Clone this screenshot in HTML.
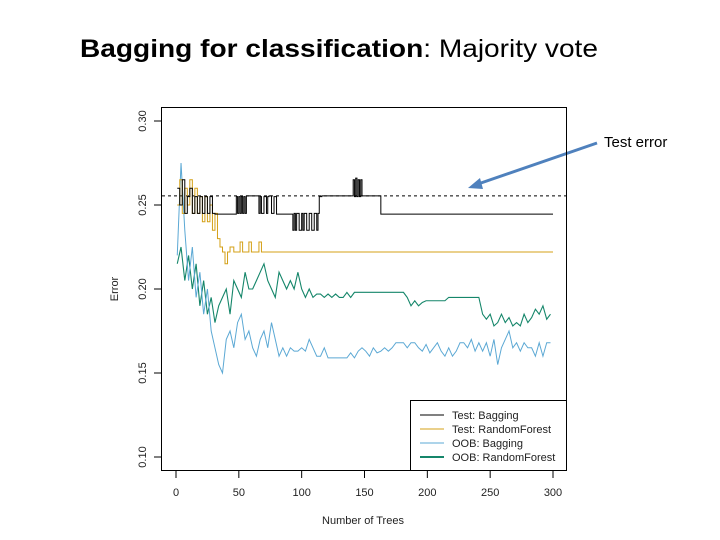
<!DOCTYPE html>
<html><head><meta charset="utf-8"><style>
html,body{margin:0;padding:0;background:#fff;}
svg{display:block;font-family:"Liberation Sans",sans-serif;}
</style></head><body>
<svg id="chart" width="720" height="540" viewBox="0 0 720 540">
<text x="80" y="57" font-size="25" textLength="518" lengthAdjust="spacingAndGlyphs" fill="#000"><tspan font-weight="bold">Bagging for classification</tspan>: Majority vote</text>
<text x="604" y="147" font-size="15" fill="#000">Test error</text>
<line x1="597" y1="143" x2="478" y2="184" stroke="#4f81bd" stroke-width="3"/>
<polygon points="468,188 480,178 483,189" fill="#4f81bd"/>
<rect x="161.5" y="107.5" width="405" height="363" fill="none" stroke="#000" stroke-width="1"/>
<g id="axes"></g>
<g id="series"></g>
<g>
<rect x="410.5" y="400.5" width="156" height="70" fill="#fff" stroke="#000"/>
<line x1="420" y1="415" x2="444" y2="415" stroke="#000"/>
<text x="452" y="419" font-size="11" fill="#222">Test: Bagging</text>
<line x1="420" y1="429" x2="444" y2="429" stroke="#d4a017"/>
<text x="452" y="433" font-size="11" fill="#222">Test: RandomForest</text>
<line x1="420" y1="443" x2="444" y2="443" stroke="#5ba8d4"/>
<text x="452" y="447" font-size="11" fill="#222">OOB: Bagging</text>
<line x1="420" y1="457" x2="444" y2="457" stroke="#15866a" stroke-width="2"/>
<text x="452" y="461" font-size="11" fill="#222">OOB: RandomForest</text>
</g>
<text x="363" y="524" font-size="11" text-anchor="middle" fill="#222">Number of Trees</text>
<text transform="translate(118,289) rotate(-90)" font-size="11" text-anchor="middle" fill="#222">Error</text>
</svg>
<script>
const xTicks = [0, 50, 100, 150, 200, 250, 300];
const yTicks = [0.10, 0.15, 0.20, 0.25, 0.30];
const yTickLabels = ["0.10", "0.15", "0.20", "0.25", "0.30"];
const dashedLevel = 0.2554;
const testBagTrees = [1,3,5,7,9,11,13,15,17,19,21,23,25,27,29,31,48,49,50,51,52,53,54,55,56,66,67,68,70,72,73,74,76,78,80,92,93,94,95,96,98,100,101,102,104,106,108,110,112,113,114,116,140,141,142,143,144,145,146,147,148,149,163,300];
const testBagVals = [0.26,0.25,0.265,0.245,0.255,0.26,0.245,0.255,0.245,0.255,0.245,0.255,0.245,0.255,0.245,0.2446,0.255,0.245,0.255,0.245,0.255,0.245,0.255,0.245,0.2554,0.245,0.255,0.245,0.255,0.245,0.255,0.2554,0.245,0.255,0.2446,0.2446,0.235,0.245,0.235,0.245,0.235,0.245,0.235,0.245,0.235,0.245,0.235,0.245,0.235,0.245,0.255,0.2554,0.2554,0.265,0.255,0.266,0.255,0.265,0.255,0.265,0.2554,0.2554,0.2446,0.2446];
const testRfTrees = [1,3,5,7,9,11,13,15,17,19,21,23,25,27,29,31,33,35,37,39,41,43,46,48,51,53,56,58,60,62,64,66,68,300];
const testRfVals = [0.25,0.265,0.245,0.26,0.25,0.265,0.245,0.26,0.245,0.255,0.24,0.255,0.24,0.25,0.235,0.245,0.23,0.225,0.222,0.215,0.222,0.225,0.222,0.222,0.228,0.222,0.222,0.228,0.222,0.222,0.222,0.228,0.222,0.222];
const oobTrees = Array.from({length:100},(_,i)=>1+3*i);
const oobBagVals = [0.22,0.275,0.235,0.205,0.225,0.195,0.21,0.185,0.2,0.175,
0.165,0.155,0.15,0.17,0.175,0.165,0.18,0.185,0.17,0.175,
0.165,0.16,0.17,0.175,0.165,0.18,0.17,0.16,0.165,0.16,
0.165,0.163,0.163,0.165,0.163,0.17,0.165,0.16,0.16,0.165,
0.159,0.159,0.159,0.159,0.159,0.159,0.162,0.159,0.163,0.165,
0.163,0.16,0.165,0.162,0.163,0.165,0.163,0.165,0.168,0.168,
0.168,0.165,0.168,0.168,0.165,0.163,0.167,0.162,0.165,0.168,
0.163,0.16,0.165,0.16,0.163,0.168,0.168,0.165,0.17,0.163,
0.168,0.163,0.168,0.16,0.17,0.155,0.165,0.17,0.175,0.165,
0.168,0.163,0.168,0.165,0.165,0.16,0.168,0.16,0.168,0.168];
const oobRfVals = [0.215,0.225,0.205,0.22,0.2,0.215,0.19,0.205,0.185,0.195,
0.18,0.19,0.195,0.2,0.185,0.205,0.2,0.195,0.21,0.2,
0.2,0.205,0.21,0.215,0.205,0.2,0.195,0.21,0.205,0.2,
0.205,0.2,0.21,0.2,0.195,0.2,0.195,0.197,0.197,0.195,
0.197,0.195,0.197,0.195,0.195,0.198,0.195,0.198,0.198,0.198,
0.198,0.198,0.198,0.198,0.198,0.198,0.198,0.198,0.198,0.198,
0.198,0.195,0.19,0.193,0.19,0.192,0.193,0.193,0.193,0.193,
0.193,0.193,0.195,0.195,0.195,0.195,0.195,0.195,0.195,0.195,
0.195,0.185,0.182,0.185,0.178,0.18,0.185,0.18,0.183,0.178,
0.18,0.178,0.185,0.18,0.183,0.188,0.185,0.19,0.182,0.185];

const NS = "http://www.w3.org/2000/svg";
const xs = t => 176 + t * (553 - 176) / 300;
const ys = v => 457 - (v - 0.10) * 1680;
const axes = document.getElementById('axes');
const series = document.getElementById('series');
function mk(tag, attrs, parent){ const e=document.createElementNS(NS,tag); for(const k in attrs) e.setAttribute(k,attrs[k]); parent.appendChild(e); return e; }

xTicks.forEach(t=>{
  const l = mk('line',{x1:xs(t),x2:xs(t),y1:471,y2:478,stroke:'#000'},axes);
  
  
  const tx = mk('text',{x:xs(t),y:496,'font-size':11,'text-anchor':'middle',fill:'#222'},axes);
  tx.textContent = String(t);
  
  
});
yTicks.forEach((v,i)=>{
  const l = mk('line',{x1:154,x2:161,y1:ys(v),y2:ys(v),stroke:'#000'},axes);
  
  
  const tx = mk('text',{transform:`translate(146,${ys(v)}) rotate(-90)`,'font-size':11,'text-anchor':'middle',fill:'#222'},axes);
  tx.textContent = yTickLabels[i];
  
  
});
const dl = mk('line',{x1:162,x2:566,y1:ys(dashedLevel),y2:ys(dashedLevel),stroke:'#000','stroke-dasharray':'3,3'},series);



function stepPath(ts, vs){ let d=`M${xs(ts[0])},${ys(vs[0])}`; for(let i=1;i<ts.length;i++){ d+=`H${xs(ts[i])}V${ys(vs[i])}`; } return d; }
function linePath(ts, vs){ return ts.map((t,i)=>(i?'L':'M')+xs(t)+','+ys(vs[i])).join(''); }

const p4 = mk('path',{d:linePath(oobTrees,oobRfVals),fill:'none',stroke:'#15866a','stroke-width':1.1},series);


const p3 = mk('path',{d:linePath(oobTrees,oobBagVals),fill:'none',stroke:'#5ba8d4','stroke-width':1},series);


const p2 = mk('path',{d:stepPath(testRfTrees,testRfVals),fill:'none',stroke:'#d4a017','stroke-width':1},series);


const p1 = mk('path',{d:stepPath(testBagTrees,testBagVals),fill:'none',stroke:'#000','stroke-width':1},series);


</script>
</body></html>
